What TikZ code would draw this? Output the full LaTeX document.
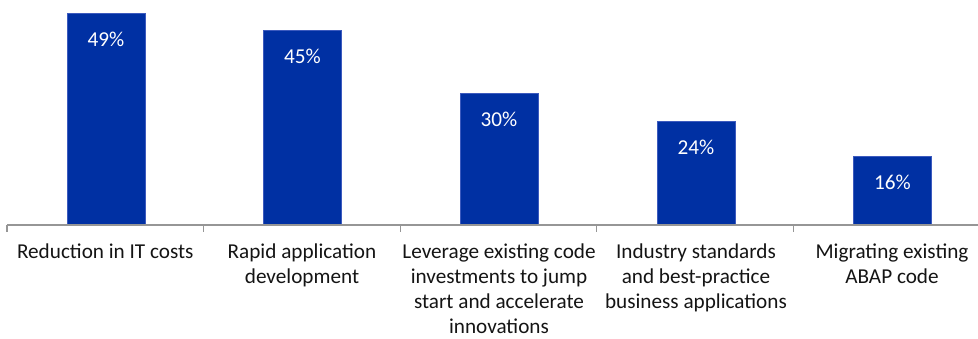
\documentclass[tikz,border=0pt]{standalone}
\usepackage{fontspec}
\setmainfont{Carlito}
\definecolor{barblue}{RGB}{0,48,163}
\definecolor{baredge}{RGB}{60,90,190}
\definecolor{axisgray}{RGB}{150,150,150}
\definecolor{txt}{RGB}{20,20,20}
\begin{document}
\begin{tikzpicture}[x=1pt,y=1pt,
  bar/.style={fill=barblue,draw=baredge,line width=0.6pt,minimum width=78pt,inner sep=0pt,anchor=south},
  val/.style={text=white,font=\fontsize{21.2}{25}\selectfont,anchor=center,inner sep=0pt},
  cat/.style={text=txt,font=\fontsize{21.2}{25}\selectfont,align=center,anchor=base,inner sep=0pt},
  axisline/.style={draw=axisgray,line width=1.2pt}]
\useasboundingbox (0,0) rectangle (978,339);
% bars (axis at y=114)
\node[bar,minimum height=211pt] (b1) at (106,114) {};
\node[bar,minimum height=194pt] (b2) at (302.5,114) {};
\node[bar,minimum height=131pt] (b3) at (499,114) {};
\node[bar,minimum height=103pt] (b4) at (696,114) {};
\node[bar,minimum height=68pt] (b5) at (892.5,114) {};
% value labels
\node[val] (v1) at ([yshift=-26pt]b1.north) {49\%};
\node[val] (v2) at ([yshift=-26pt]b2.north) {45\%};
\node[val] (v3) at ([yshift=-26pt]b3.north) {30\%};
\node[val] (v4) at ([yshift=-26pt]b4.north) {24\%};
\node[val] (v5) at ([yshift=-26pt]b5.north) {16\%};
% axis
\coordinate (a0) at (7,114);
\coordinate (a1) at (978,114);
\draw[axisline] (a0) -- (a1);
\foreach \x in {7,203.6,400.2,596.8,793.4}
  \draw[axisline] (\x,114) -- (\x,107);
% category labels (anchor = baseline of last line)
\node[cat] (c1) at (105.3,80) {Reduction in IT costs};
\node[cat] (c2) at (302,55) {Rapid application\\development};
\node[cat] (c3) at (499,5) {Leverage existing code\\investments to jump\\start and accelerate\\innovations};
\node[cat] (c4) at (696,30) {Industry standards\\and best-practice\\business applications};
\node[cat] (c5) at (892,55) {Migrating existing\\ABAP code};
\end{tikzpicture}
\end{document}
